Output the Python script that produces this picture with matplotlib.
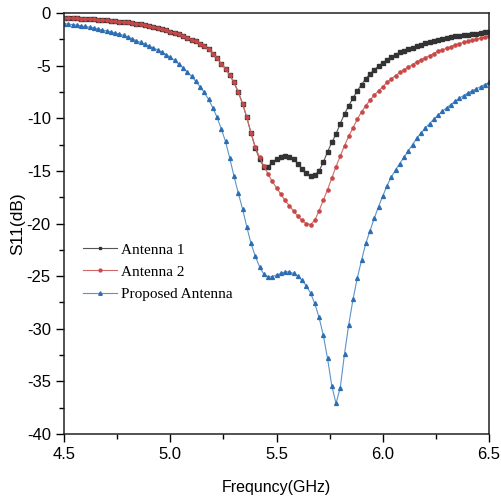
import numpy as np
import matplotlib
matplotlib.use("Agg")
import matplotlib.pyplot as plt
from matplotlib.ticker import MultipleLocator

# frequency sweep, 0.02 GHz step
freq = np.linspace(4.5, 6.5, 101)

# common part of Antenna 1 / Antenna 2 (4.50 .. 5.36 GHz)
shared_low = [-0.45, -0.47, -0.49, -0.51, -0.53, -0.55, -0.57, -0.60, -0.63, -0.66,
              -0.70, -0.74, -0.78, -0.82, -0.86, -0.90, -0.95, -1.01, -1.07, -1.14,
              -1.22, -1.31, -1.41, -1.52, -1.64, -1.77, -1.90, -2.04, -2.19, -2.35,
              -2.52, -2.70, -2.90, -3.15, -3.45, -3.85, -4.30, -4.80, -5.30, -5.90,
              -6.60, -7.50, -8.60, -9.90]

# 5.38 .. 6.50 GHz
ant1_high = [-11.4, -12.8, -13.9, -14.6, -14.6, -14.2, -13.9, -13.65, -13.55, -13.65,
             -13.9, -14.3, -14.8, -15.2, -15.5, -15.4, -15.0, -14.2, -13.2, -12.3,
             -11.5, -10.5, -9.6, -8.8, -8.1, -7.4, -6.8, -6.25, -5.8, -5.4,
             -5.05, -4.75, -4.45, -4.2, -3.95, -3.75, -3.6, -3.45, -3.3, -3.15,
             -3.0, -2.85, -2.72, -2.62, -2.52, -2.43, -2.35, -2.28, -2.22, -2.15,
             -2.1, -2.05, -2.0, -1.95, -1.9, -1.85, -1.8]

ant2_high = [-11.4, -12.7, -13.7, -14.5, -15.3, -16.0, -16.6, -17.2, -17.8, -18.3,
             -18.8, -19.3, -19.7, -20.0, -20.1, -19.7, -18.8, -17.8, -16.8, -15.7,
             -14.6, -13.6, -12.6, -11.7, -10.9, -10.1, -9.4, -8.8, -8.3, -7.8,
             -7.4, -7.0, -6.6, -6.25, -5.95, -5.65, -5.4, -5.15, -4.9, -4.65,
             -4.45, -4.25, -4.05, -3.85, -3.65, -3.5, -3.35, -3.2, -3.05, -2.9,
             -2.8, -2.7, -2.6, -2.5, -2.4, -2.3, -2.2]

proposed = [-1.00, -1.05, -1.10, -1.16, -1.22, -1.28, -1.35, -1.43, -1.52, -1.61,
            -1.70, -1.80, -1.90, -2.00, -2.12, -2.28, -2.45, -2.62, -2.80, -2.98,
            -3.15, -3.32, -3.50, -3.72, -3.95, -4.20, -4.50, -4.85, -5.20, -5.60,
            -6.00, -6.50, -7.00, -7.55, -8.20, -9.00, -9.90, -11.00, -12.20, -13.80,
            -15.50, -17.10, -18.60, -20.30, -21.90, -23.10, -24.10, -24.80, -25.10, -25.05,
            -24.90, -24.75, -24.60, -24.60, -24.75, -25.00, -25.40, -25.90, -26.60, -27.60,
            -28.90, -30.60, -32.80, -35.40, -37.10, -35.60, -32.40, -29.60, -27.20, -25.20,
            -23.50, -21.90, -20.70, -19.50, -18.40, -17.40, -16.40, -15.60, -14.90, -14.30,
            -13.70, -13.10, -12.50, -11.90, -11.40, -10.95, -10.50, -10.10, -9.70, -9.35,
            -9.00, -8.70, -8.40, -8.10, -7.85, -7.60, -7.40, -7.20, -7.00, -6.80, -6.60]

antenna1 = shared_low + ant1_high
antenna2 = shared_low + ant2_high

plt.rcParams["font.family"] = "Liberation Sans"
plt.rcParams["axes.unicode_minus"] = False

fig = plt.figure(figsize=(5.01, 5.03), dpi=100)
ax = fig.add_axes([64 / 501, 69 / 503, 425 / 501, 421 / 503])

ax.plot(freq, antenna1, color="#555555", lw=0.8, marker="s", ms=2.2,
        mfc="#333333", mec="#333333", label="Antenna 1")
ax.plot(freq, antenna2, color="#d06a6a", lw=0.8, marker="o", ms=2.3,
        mfc="#c84848", mec="#c84848", label="Antenna 2")
ax.plot(freq, proposed, color="#5a94cc", lw=0.8, marker="^", ms=2.8,
        mfc="#2c6db3", mec="#2c6db3", label="Proposed Antenna")

ax.set_xlim(4.5, 6.5)
ax.set_ylim(-40, 0)
ax.xaxis.set_major_locator(MultipleLocator(0.5))
ax.xaxis.set_minor_locator(MultipleLocator(0.25))
ax.yaxis.set_major_locator(MultipleLocator(5))
ax.yaxis.set_minor_locator(MultipleLocator(2.5))
ax.xaxis.set_major_formatter(matplotlib.ticker.FormatStrFormatter("%.1f"))
ax.tick_params(which="major", direction="out", length=6, width=1, labelsize=12,
               top=False, right=False)
ax.tick_params(which="minor", direction="out", length=3.5, width=1,
               top=False, right=False)
for sp in ax.spines.values():
    sp.set_linewidth(1.1)
    sp.set_color("#222222")

ax.set_xlabel("Frequncy(GHz)", fontsize=11.5, labelpad=13)
ax.set_ylabel("S11(dB)", fontsize=12.5, labelpad=1)

ax.legend(loc="center left", bbox_to_anchor=(0.045, 0.385), frameon=False,
          prop={"family": "Liberation Serif", "size": 11}, handlelength=2.2,
          handletextpad=0.25, labelspacing=0.55, borderpad=0, borderaxespad=0,
          markerscale=0.9)

fig.savefig("out.png", dpi=100)
